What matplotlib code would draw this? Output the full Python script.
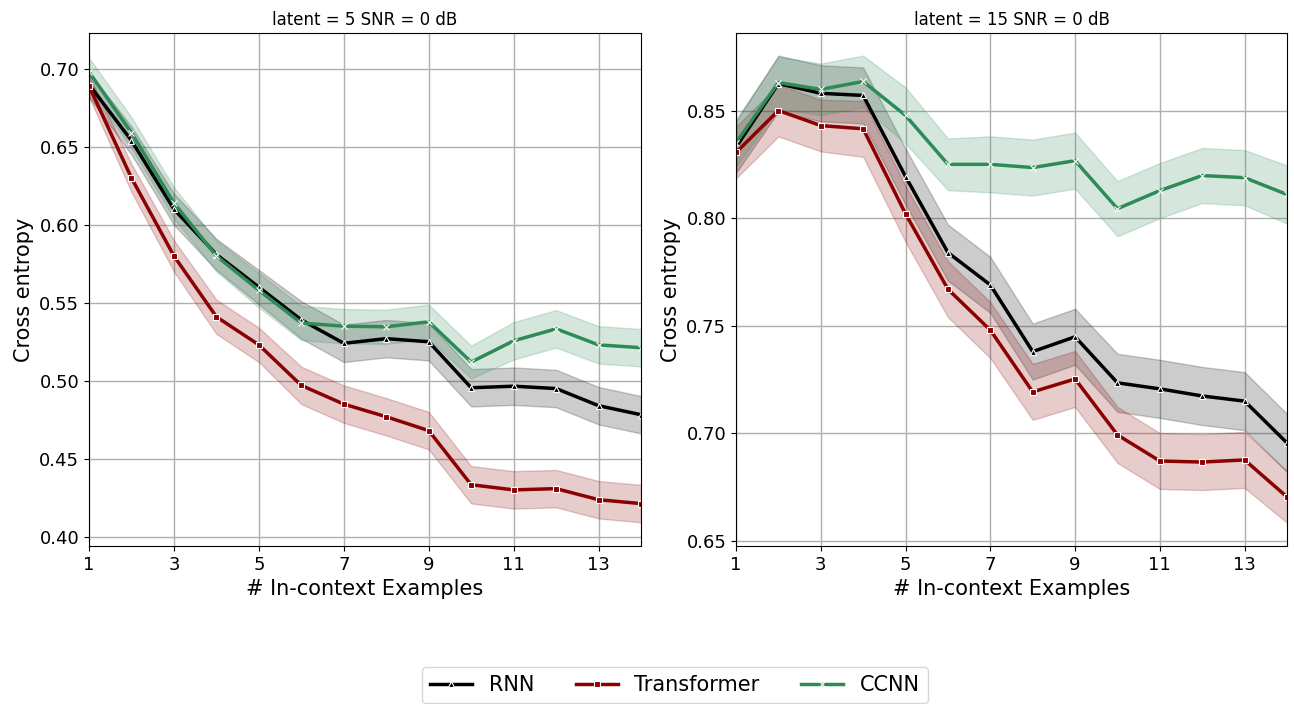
import numpy as np
import matplotlib
matplotlib.use("Agg")
import matplotlib.pyplot as plt

x = np.arange(1, 15)

# latent = 5
rnn_5 = [0.690, 0.654, 0.610, 0.581, 0.560, 0.539, 0.524, 0.527, 0.525, 0.4955, 0.4965, 0.4950, 0.4840, 0.4782]
rnn_5_ci = [0.008, 0.009, 0.010, 0.010, 0.011, 0.012, 0.012, 0.012, 0.012, 0.012, 0.012, 0.012, 0.012, 0.012]
tf_5 = [0.689, 0.630, 0.580, 0.541, 0.523, 0.497, 0.485, 0.4769, 0.468, 0.4333, 0.4300, 0.4308, 0.4237, 0.4212]
tf_5_ci = [0.007, 0.009, 0.010, 0.011, 0.011, 0.012, 0.012, 0.012, 0.012, 0.012, 0.012, 0.012, 0.012, 0.012]
cc_5 = [0.698, 0.659, 0.614, 0.580, 0.558, 0.537, 0.535, 0.5346, 0.5378, 0.5120, 0.5256, 0.5333, 0.5230, 0.5212]
cc_5_ci = [0.009, 0.010, 0.010, 0.010, 0.011, 0.011, 0.011, 0.011, 0.011, 0.0105, 0.012, 0.012, 0.012, 0.012]

# latent = 15
rnn_15 = [0.833, 0.8625, 0.858, 0.857, 0.8193, 0.784, 0.769, 0.738, 0.7449, 0.7235, 0.7207, 0.7174, 0.7150, 0.6956]
rnn_15_ci = [0.012, 0.013, 0.013, 0.013, 0.013, 0.013, 0.013, 0.013, 0.013, 0.0135, 0.0135, 0.0135, 0.0135, 0.0135]
tf_15 = [0.8305, 0.850, 0.843, 0.8415, 0.802, 0.767, 0.748, 0.7193, 0.7253, 0.6993, 0.6872, 0.6867, 0.6877, 0.6705]
tf_15_ci = [0.012, 0.012, 0.012, 0.013, 0.013, 0.013, 0.013, 0.013, 0.013, 0.013, 0.013, 0.013, 0.013, 0.012]
cc_15 = [0.835, 0.863, 0.8598, 0.8635, 0.8477, 0.825, 0.825, 0.8235, 0.8267, 0.8044, 0.8128, 0.8198, 0.8188, 0.8110]
cc_15_ci = [0.011, 0.012, 0.012, 0.012, 0.013, 0.012, 0.013, 0.013, 0.013, 0.0128, 0.0128, 0.0128, 0.0128, 0.0135]

panels = [
    ("latent = 5 SNR = 0 dB", (0.394, 0.723), [0.40, 0.45, 0.50, 0.55, 0.60, 0.65, 0.70],
     [(rnn_5, rnn_5_ci), (tf_5, tf_5_ci), (cc_5, cc_5_ci)]),
    ("latent = 15 SNR = 0 dB", (0.6477, 0.886), [0.65, 0.70, 0.75, 0.80, 0.85],
     [(rnn_15, rnn_15_ci), (tf_15, tf_15_ci), (cc_15, cc_15_ci)]),
]
names = ["RNN", "Transformer", "CCNN"]
colors = ["black", "#8b0000", "#2e8b57"]
markers = ["^", "s", "x"]

fig = plt.figure(figsize=(12.94, 7.04), dpi=100)
axes = [fig.add_axes([0.0688, 0.2244, 0.4266, 0.7287]),
        fig.add_axes([0.5688, 0.2244, 0.4258, 0.7287])]

for ax, (title, ylim, yticks, series) in zip(axes, panels):
    for (m, ci), name, c, mk in zip(series, names, colors, markers):
        m = np.array(m); ci = np.array(ci)
        ax.fill_between(x, m - ci, m + ci, color=c, alpha=0.2, lw=1)
        ax.plot(x, m, color=c, lw=2.5, marker=mk, ms=5,
                mec="white", mew=0.8, label=name)
    ax.set_xlim(1, 14); ax.set_ylim(*ylim)
    ax.set_xticks(range(1, 14, 2)); ax.set_yticks(yticks)
    ax.set_yticklabels([f"{v:.2f}" for v in yticks])
    ax.tick_params(labelsize=13)
    ax.grid(True, color="#b0b0b0", lw=1)
    ax.set_axisbelow(True)
    ax.set_title(title, fontsize=12)
    ax.set_xlabel("# In-context Examples", fontsize=15)
    ax.set_ylabel("Cross entropy", fontsize=15)

h, l = axes[0].get_legend_handles_labels()
fig.legend(h, l, loc="center", bbox_to_anchor=(0.5216, 0.027), ncol=3,
           fontsize=15, columnspacing=2.0, handlelength=2.0)

fig.savefig("out.png", dpi=100)
